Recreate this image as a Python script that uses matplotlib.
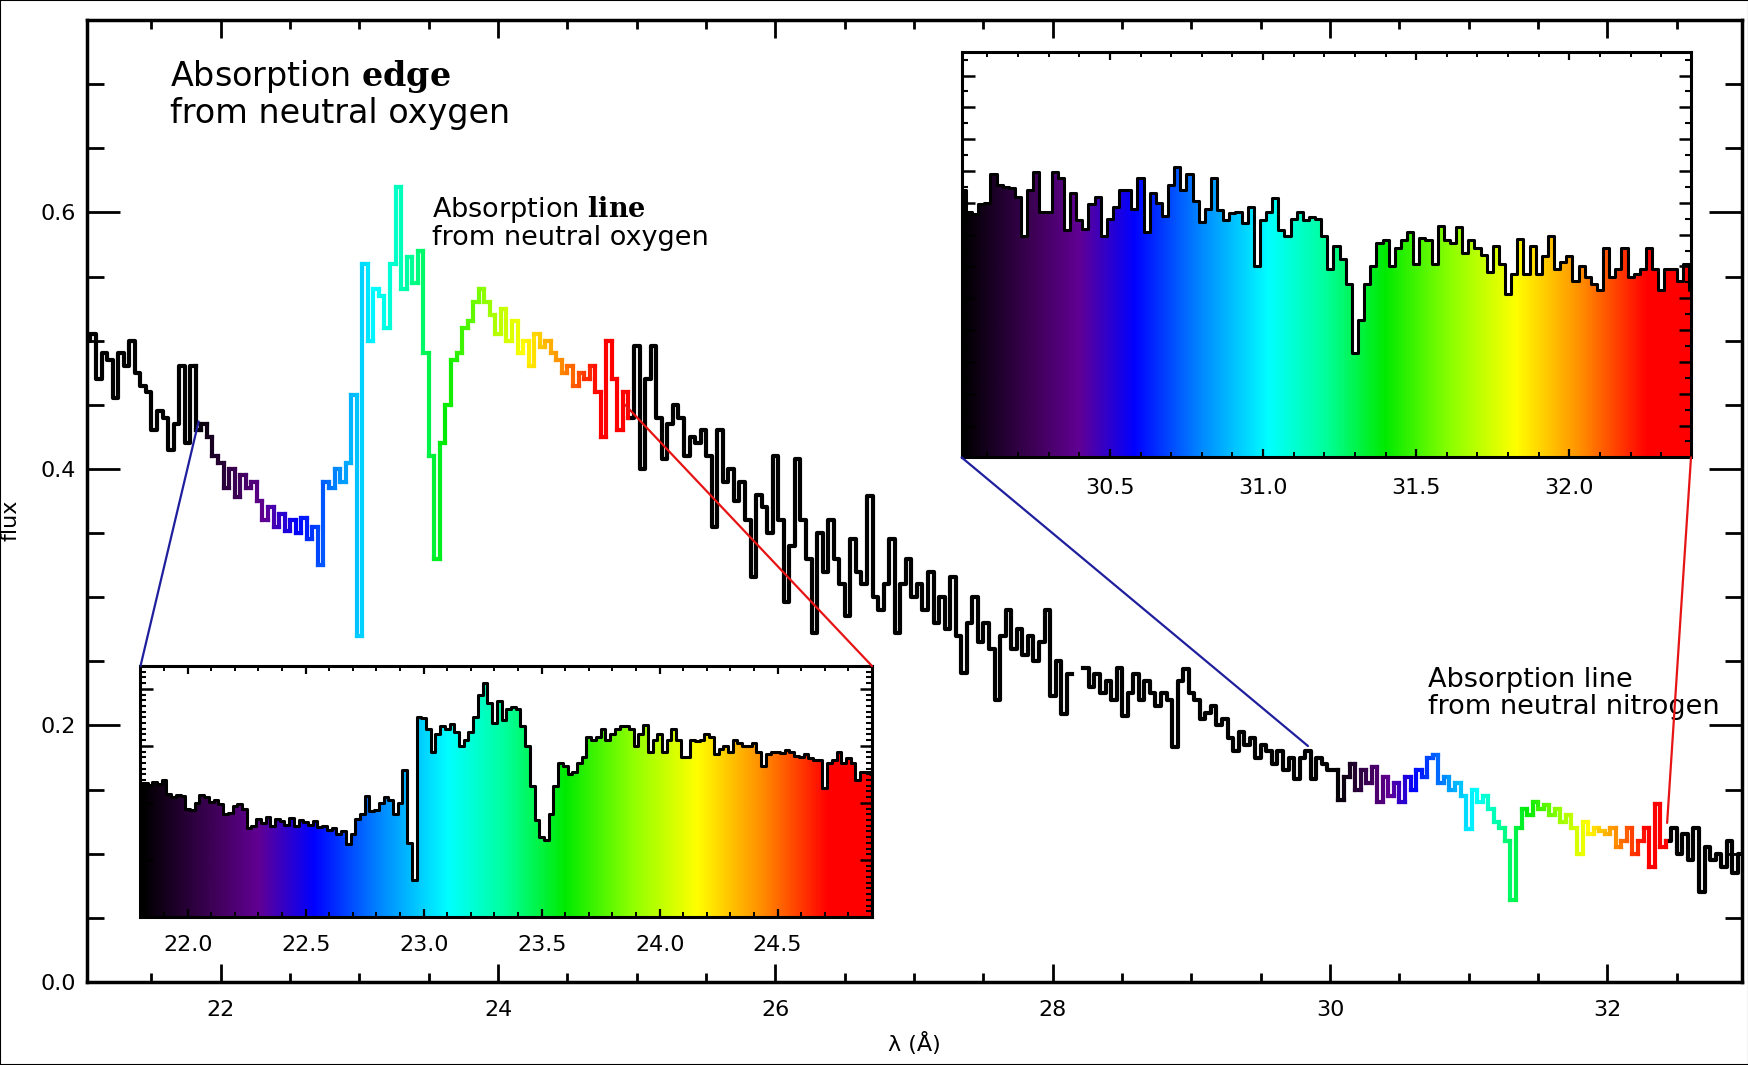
import numpy as np
import matplotlib
matplotlib.use('Agg')
import matplotlib.pyplot as plt
from matplotlib.colors import LinearSegmentedColormap
from matplotlib.collections import LineCollection
from matplotlib.patches import Polygon, Rectangle, ConnectionPatch
from matplotlib.ticker import MultipleLocator, FormatStrFormatter

plt.rcParams['font.family'] = ['DejaVu Sans']
plt.rcParams['mathtext.fontset'] = 'dejavuserif'

# ---------------- data ----------------
main_start = 21.04      # Angstrom, first bin centre
main_step = 0.04
main_flux = [
    0.50, 0.505, 0.47, 0.49, 0.485, 0.455, 0.49, 0.48, 0.50, 0.475,
    0.465, 0.46, 0.43, 0.445, 0.44, 0.415, 0.435, 0.48, 0.42, 0.48,
    0.43, 0.435, 0.425, 0.41, 0.405, 0.385, 0.40, 0.378, 0.395, 0.385,
    0.39, 0.375, 0.36, 0.37, 0.355, 0.365, 0.352, 0.36, 0.35, 0.362,
    0.345, 0.355, 0.325, 0.39, 0.385, 0.40, 0.39, 0.405, 0.458, 0.27,
    0.56, 0.50, 0.54, 0.535, 0.51, 0.56, 0.62, 0.54, 0.565, 0.545,
    0.57, 0.49, 0.41, 0.33, 0.42, 0.45, 0.485, 0.49, 0.51, 0.515,
    0.53, 0.54, 0.53, 0.52, 0.505, 0.525, 0.50, 0.515, 0.49, 0.50,
    0.48, 0.505, 0.495, 0.50, 0.49, 0.485, 0.475, 0.48, 0.465, 0.475,
    0.47, 0.48, 0.46, 0.425, 0.50, 0.47, 0.43, 0.46, 0.44, 0.496,
    0.40, 0.47, 0.496, 0.44, 0.408, 0.435, 0.45, 0.44, 0.41, 0.425,
    0.42, 0.43, 0.41, 0.355, 0.43, 0.39, 0.40, 0.375, 0.39, 0.36,
    0.316, 0.38, 0.37, 0.35, 0.41, 0.36, 0.296, 0.34, 0.408, 0.36,
    0.33, 0.272, 0.35, 0.32, 0.36, 0.33, 0.31, 0.285, 0.345, 0.32,
    0.31, 0.379, 0.30, 0.29, 0.31, 0.345, 0.272, 0.31, 0.33, 0.30,
    0.31, 0.29, 0.32, 0.28, 0.30, 0.275, 0.316, 0.27, 0.241, 0.28,
    0.30, 0.265, 0.28, 0.26, 0.22, 0.27, 0.29, 0.26, 0.275, 0.255,
    0.27, 0.25, 0.265, 0.29, 0.223, 0.25, 0.209, 0.24, np.nan, np.nan,
    0.245, 0.23, 0.24, 0.225, 0.235, 0.22, 0.245, 0.207, 0.225, 0.24,
    0.22, 0.235, 0.225, 0.215, 0.225, 0.22, 0.183, 0.235, 0.244, 0.225,
    0.22, 0.205, 0.21, 0.215, 0.20, 0.205, 0.19, 0.18, 0.195, 0.185,
    0.19, 0.175, 0.185, 0.18, 0.17, 0.18, 0.165, 0.175, 0.158, 0.175,
    0.18, 0.158, 0.175, 0.17, 0.165, 0.165, 0.142, 0.16, 0.17, 0.15,
    0.165, 0.155, 0.168, 0.14, 0.16, 0.145, 0.155, 0.14, 0.16, 0.15,
    0.165, 0.16, 0.175, 0.177, 0.155, 0.16, 0.15, 0.155, 0.145, 0.119,
    0.15, 0.14, 0.145, 0.135, 0.125, 0.12, 0.11, 0.064, 0.12, 0.135,
    0.13, 0.14, 0.135, 0.138, 0.13, 0.135, 0.125, 0.13, 0.12, 0.10,
    0.125, 0.115, 0.12, 0.118, 0.115, 0.12, 0.105, 0.11, 0.12, 0.10,
    0.11, 0.12, 0.09, 0.139, 0.105, 0.11, 0.12, 0.10, 0.115, 0.095,
    0.12, 0.07, 0.105, 0.095, 0.10, 0.09, 0.11, 0.085, 0.10,
]

inset1_start = 21.80
inset1_step = 0.02
inset1_flux = [
    0.435, 0.435, 0.432, 0.436, 0.434, 0.44, 0.415, 0.41, 0.414, 0.412,
    0.39, 0.388, 0.40, 0.414, 0.41, 0.402, 0.405, 0.398, 0.38, 0.382,
    0.395, 0.398, 0.39, 0.356, 0.36, 0.372, 0.365, 0.375, 0.36, 0.372,
    0.368, 0.362, 0.374, 0.36, 0.37, 0.366, 0.362, 0.368, 0.358, 0.36,
    0.352, 0.356, 0.345, 0.35, 0.328, 0.345, 0.372, 0.38, 0.412, 0.386,
    0.388, 0.40, 0.41, 0.405, 0.38, 0.40, 0.457, 0.33, 0.264, 0.55,
    0.548, 0.53, 0.49, 0.52, 0.535, 0.53, 0.538, 0.525, 0.50, 0.51,
    0.525, 0.55, 0.59, 0.61, 0.575, 0.54, 0.578, 0.545, 0.565, 0.568,
    0.565, 0.535, 0.50, 0.43, 0.37, 0.34, 0.335, 0.38, 0.43, 0.47,
    0.465, 0.45, 0.455, 0.47, 0.48, 0.515, 0.51, 0.515, 0.53, 0.51,
    0.52, 0.53, 0.535, 0.535, 0.53, 0.50, 0.52, 0.537, 0.49, 0.51,
    0.52, 0.49, 0.51, 0.53, 0.51, 0.48, 0.48, 0.51, 0.508, 0.51,
    0.52, 0.515, 0.485, 0.495, 0.50, 0.49, 0.51, 0.505, 0.50, 0.50,
    0.505, 0.49, 0.465, 0.485, 0.49, 0.49, 0.488, 0.492, 0.49, 0.482,
    0.48, 0.485, 0.478, 0.476, 0.475, 0.426, 0.47, 0.475, 0.49, 0.47,
    0.478, 0.47, 0.44, 0.455, 0.455, 0.45,
]

inset2_start = 30.02
inset2_step = 0.02
inset2_flux = [
    0.185, 0.17, 0.168, 0.175, 0.176, 0.196, 0.188, 0.187, 0.186, 0.18,
    0.153, 0.185, 0.197, 0.17, 0.17, 0.197, 0.193, 0.157, 0.183, 0.164,
    0.158, 0.175, 0.18, 0.153, 0.165, 0.173, 0.185, 0.185, 0.172, 0.193,
    0.156, 0.183, 0.176, 0.167, 0.188, 0.201, 0.185, 0.196, 0.177, 0.163,
    0.172, 0.193, 0.171, 0.164, 0.169, 0.17, 0.162, 0.173, 0.132, 0.164,
    0.17, 0.179, 0.157, 0.153, 0.165, 0.17, 0.164, 0.166, 0.165, 0.153,
    0.13, 0.146, 0.137, 0.12, 0.072, 0.095, 0.12, 0.132, 0.148, 0.15,
    0.132, 0.145, 0.15, 0.156, 0.134, 0.152, 0.15, 0.134, 0.16, 0.15,
    0.148, 0.159, 0.141, 0.15, 0.145, 0.14, 0.128, 0.146, 0.134, 0.113,
    0.127, 0.151, 0.127, 0.146, 0.127, 0.139, 0.153, 0.13, 0.135, 0.139,
    0.122, 0.132, 0.125, 0.12, 0.116, 0.145, 0.125, 0.13, 0.145, 0.125,
    0.127, 0.13, 0.145, 0.13, 0.116, 0.13, 0.13, 0.122, 0.134, 0.116,
]

colored_ranges = [(21.82, 24.93), (30.05, 32.43)]
inset_xlims = [(21.80, 24.90), (30.016, 32.397)]
inset_ylims = [(0.20, 0.64), (0.0, 0.28)]
# points on the main spectrum where the zoom connectors start
connector_left = [(21.84, 0.437), (29.84, 0.184)]
connector_right = [(24.915, 0.45), (32.43, 0.124)]

main_xticks = [22, 24, 26, 28, 30, 32]
main_yticks = [0.0, 0.2, 0.4, 0.6]

# IDL-like rainbow colour table
cmap = LinearSegmentedColormap.from_list('idl_rainbow', [
    (0.00, (0.0, 0.0, 0.0)),
    (0.10, (0.25, 0.0, 0.35)),
    (0.16, (0.38, 0.0, 0.58)),
    (0.235, (0.0, 0.0, 1.0)),
    (0.33, (0.0, 0.55, 1.0)),
    (0.42, (0.0, 1.0, 1.0)),
    (0.50, (0.0, 1.0, 0.6)),
    (0.58, (0.0, 0.92, 0.0)),
    (0.67, (0.55, 1.0, 0.0)),
    (0.76, (1.0, 1.0, 0.0)),
    (0.85, (1.0, 0.55, 0.0)),
    (0.94, (1.0, 0.0, 0.0)),
    (1.00, (1.0, 0.0, 0.0)),
])


def step_xy(x, y, dx):
    edges = np.concatenate([x - dx / 2, [x[-1] + dx / 2]])
    xs = np.repeat(edges, 2)[1:-1]
    ys = np.repeat(y, 2)
    return xs, ys


W, H = 1749, 1065


def rect(l, t, r, b):
    return [l / W, 1 - b / H, (r - l) / W, (b - t) / H]


fig = plt.figure(figsize=(W / 100, H / 100), dpi=100)
fig.patches.append(Rectangle((0, 0), 1, 1, transform=fig.transFigure,
                             fill=False, edgecolor='black', lw=1.5))

ax = fig.add_axes(rect(87, 20, 1742, 982))
wl = main_start + main_step * np.arange(len(main_flux))
flux = np.array(main_flux, dtype=float)
xs, ys = step_xy(wl, flux, main_step)
ys_black = ys.copy()
LW = 3.0
for c0, c1 in colored_ranges:
    idx = np.where((wl >= c0) & (wl <= c1))[0]
    i0, i1 = idx[0], idx[-1]
    ys_black[2 * i0:2 * i1 + 2] = np.nan
    sx = xs[2 * i0 - 1:2 * i1 + 3]
    sy = ys[2 * i0 - 1:2 * i1 + 3]
    pts = np.column_stack([sx, sy])
    segs = np.stack([pts[:-1], pts[1:]], axis=1)
    mids = (sx[:-1] + sx[1:]) / 2
    cols = cmap(np.clip((mids - c0) / (c1 - c0), 0, 1))
    ax.add_collection(LineCollection(segs, colors=cols, linewidths=LW,
                                     capstyle='projecting', zorder=3))
ax.plot(xs, ys_black, color='black', lw=LW, zorder=2)

ax.set_xlim(21.035, 32.97)
ax.set_ylim(0.0, 0.75)
ax.set_xticks(main_xticks)
ax.set_yticks(main_yticks)
ax.xaxis.set_major_formatter(FormatStrFormatter('%d'))
ax.yaxis.set_major_formatter(FormatStrFormatter('%.1f'))
ax.xaxis.set_minor_locator(MultipleLocator(0.5))
ax.yaxis.set_minor_locator(MultipleLocator(0.05))
for s in ax.spines.values():
    s.set_linewidth(2.5)
ax.tick_params(which='both', direction='in', top=True, right=True, width=2,
               labelsize=16)
ax.tick_params(axis='x', which='major', length=13, pad=13)
ax.tick_params(axis='x', which='minor', length=6.5)
ax.tick_params(axis='y', which='major', length=24, pad=8)
ax.tick_params(axis='y', which='minor', length=12)
ax.set_xlabel('λ (Å)', fontsize=16)
ax.set_ylabel('flux', fontsize=16)
ax.xaxis.set_label_coords(0.5, -0.052)
ax.yaxis.set_label_coords(-0.040, 0.48)

ax.text(0.050, 0.960, 'Absorption $\\mathbf{edge}$\nfrom neutral oxygen',
        transform=ax.transAxes, fontsize=24, ha='left', va='top',
        linespacing=1.05)
ax.text(0.2085, 0.819, 'Absorption $\\mathbf{line}$\nfrom neutral oxygen',
        transform=ax.transAxes, fontsize=19.5, ha='left', va='top',
        linespacing=1.0)
ax.text(0.810, 0.327, 'Absorption line\nfrom neutral nitrogen',
        transform=ax.transAxes, fontsize=19.5, ha='left', va='top',
        linespacing=1.05)

inset_rects = [rect(140.5, 666, 872, 917), rect(961.6, 52.4, 1691, 457.4)]
inset_data = [(inset1_start, inset1_step, inset1_flux),
              (inset2_start, inset2_step, inset2_flux)]
inset_xtick_step = [0.5, 0.5]
inset_ymajor = [0.1, 0.022]
inset_yminor = [0.01, 0.011]
inset_pads = [13, 15]
connector_colors = [(0.12, 0.12, 0.62), (0.9, 0.08, 0.08)]
corner_left = [(0, 1), (0, 0)]
corner_right = [(1, 1), (1, 0)]

for k in range(2):
    ia = fig.add_axes(inset_rects[k], zorder=5)
    start, step, vals = inset_data[k]
    x = start + step * np.arange(len(vals))
    ixs, iys = step_xy(x, np.array(vals, dtype=float), step)
    xl, yl = inset_xlims[k], inset_ylims[k]
    grad = np.linspace(0, 1, 512).reshape(1, -1)
    im = ia.imshow(grad, cmap=cmap, extent=[xl[0], xl[1], yl[0], yl[1]],
                   aspect='auto', interpolation='bilinear', zorder=1)
    verts = np.column_stack([np.r_[ixs[0], ixs, ixs[-1]],
                             np.r_[yl[0], iys, yl[0]]])
    poly = Polygon(verts, closed=True, facecolor='none', edgecolor='none',
                   transform=ia.transData)
    ia.add_patch(poly)
    im.set_clip_path(poly)
    ia.plot(ixs, iys, color='black', lw=2.2, zorder=3)
    ia.set_xlim(xl)
    ia.set_ylim(yl)
    ia.xaxis.set_major_locator(MultipleLocator(inset_xtick_step[k]))
    ia.xaxis.set_minor_locator(MultipleLocator(0.1))
    ia.xaxis.set_major_formatter(FormatStrFormatter('%.1f'))
    ia.yaxis.set_major_locator(MultipleLocator(inset_ymajor[k]))
    ia.yaxis.set_minor_locator(MultipleLocator(inset_yminor[k]))
    ia.tick_params(which='both', direction='in', top=True, right=True,
                   labelleft=False, labelsize=16, pad=inset_pads[k])
    ia.tick_params(axis='x', which='major', length=6, width=1.6)
    ia.tick_params(axis='x', which='minor', length=3.5, width=1.4)
    ia.tick_params(axis='y', which='major', length=9, width=1.8)
    ia.tick_params(axis='y', which='minor', length=4.5, width=1.5)
    for s in ia.spines.values():
        s.set_linewidth(2.2)
    for pt, corner, col in ((connector_left[k], corner_left[k], connector_colors[0]),
                            (connector_right[k], corner_right[k], connector_colors[1])):
        con = ConnectionPatch(xyA=pt, coordsA=ax.transData, xyB=corner,
                              coordsB=ia.transAxes, color=col, lw=1.6,
                              zorder=6)
        fig.add_artist(con)

fig.savefig('out.png', dpi=100)
